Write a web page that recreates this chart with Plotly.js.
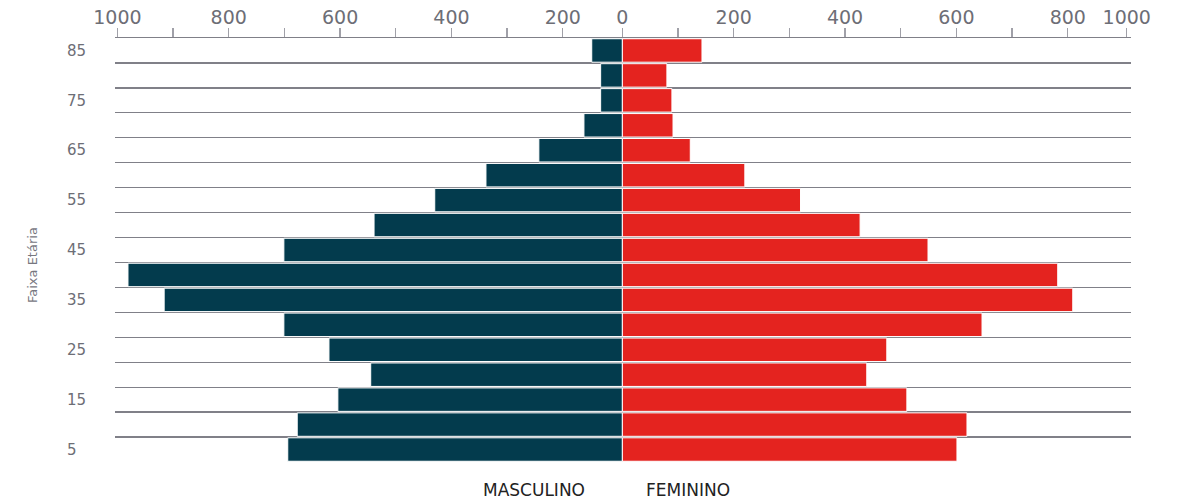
<!DOCTYPE html>
<html><head><meta charset="utf-8">
<script src="https://cdn.plot.ly/plotly-3.0.1.min.js"></script>
<style>html,body{margin:0;padding:0;background:#fff}#chart{width:1179px;height:504px}</style>
</head><body><div id="chart"></div>
<script>
// Faixas etárias (ascending)
const faixas = [5,10,15,20,25,30,35,40,45,50,55,60,65,70,75,80,85];
const masculino = [601,584,511,452,527,608,823,888,608,446,337,245,150,69,39,39,55];
const feminino  = [601,619,511,439,475,646,809,782,549,427,320,220,122,91,89,80,143];

// Top axis ticks (as drawn in the reference)
const eixoXValores = [-907,-807,-707,-607,-507,-407,-307,-207,-107,0,100,200,300,400,500,600,700,800,906];
const eixoXTextos  = ["1000","","800","","600","","400","","200","0","","200","","400","","600","","800","1000"];

// Y tick labels and band limits
const faixaTicks   = [5,15,25,35,45,55,65,75,85];
const faixaTextos  = ["5","15","25","35","45","55","65","75","85"];
const faixaLimites = [7.5,12.5,17.5,22.5,27.5,32.5,37.5,42.5,47.5,52.5,57.5,62.5,67.5,72.5,77.5,82.5];

const L = 60, R = 48, T = 38, B = 42;
const W = 1179 - L - R, H = 504 - T - B;
const px = v => (v - L) / W;
const py = v => (504 - B - v) / H;

const traces = [
  {type:'bar', orientation:'h', name:'MASCULINO', y:faixas, x:masculino.map(v=>-v),
   width:4.7, marker:{color:'#033b4d', line:{color:'#ffffff', width:1}}, hoverinfo:'skip'},
  {type:'bar', orientation:'h', name:'FEMININO', y:faixas, x:feminino,
   width:4.7, marker:{color:'#e4231f', line:{color:'#ffffff', width:1}}, hoverinfo:'skip'}
];

const gray = '#808088';
const layout = {
  width:1179, height:504,
  margin:{l:L, r:R, t:T, b:B},
  paper_bgcolor:'#fff', plot_bgcolor:'#fff',
  showlegend:false, barmode:'overlay',
  xaxis:{
    domain:[px(115), 1], range:[-911.3, 913.6], side:'top', anchor:'y',
    showline:true, linecolor:gray, linewidth:1.3,
    ticks:'outside', ticklen:9, tickwidth:1.3, tickcolor:'#a0a0a8',
    tickmode:'array', tickvals:eixoXValores, ticktext:eixoXTextos,
    ticklabelstandoff:-4,
    tickfont:{family:'DejaVu Sans', size:19, color:'#6d6e76'},
    showgrid:false, zeroline:false, fixedrange:true
  },
  yaxis:{
    range:[2.5, 87.5], anchor:'free', position:px(63), side:'left',
    ticklabelposition:'inside', ticks:'',
    tickmode:'array', tickvals:faixaTicks, ticktext:faixaTextos,
    tickfont:{family:'DejaVu Sans', size:15, color:'#6d6e76'},
    showgrid:false, zeroline:false, showline:false,
    minor:{tickmode:'array', tickvals:faixaLimites, showgrid:true, gridcolor:gray, gridwidth:1.3, ticks:''},
    fixedrange:true
  },
  annotations:[
    {text:'Faixa Etária', xref:'paper', yref:'paper', x:px(32), y:py(265), textangle:-90,
     showarrow:false, xanchor:'center', yanchor:'middle',
     font:{family:'DejaVu Sans', size:13, color:'#77777f'}},
    {text:'MASCULINO', xref:'paper', yref:'paper', x:px(534), y:py(490),
     showarrow:false, xanchor:'center', yanchor:'middle',
     font:{family:'DejaVu Sans', size:17, color:'#222222'}},
    {text:'FEMININO', xref:'paper', yref:'paper', x:px(688), y:py(490),
     showarrow:false, xanchor:'center', yanchor:'middle',
     font:{family:'DejaVu Sans', size:17, color:'#222222'}}
  ]
};

Plotly.newPlot('chart', traces, layout, {displayModeBar:false, staticPlot:true});
</script>
</body></html>
